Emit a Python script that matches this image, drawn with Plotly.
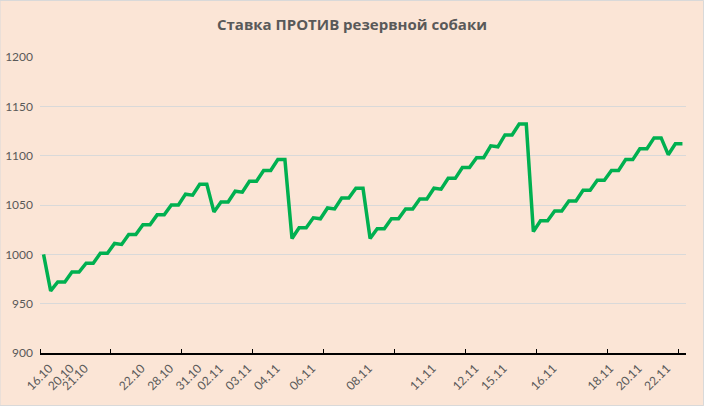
import plotly.graph_objects as go

values = [
    1000, 963, 972, 972, 982, 982, 991, 991, 1001, 1001,
    1011, 1010, 1020, 1020, 1030, 1030, 1040, 1040, 1050, 1050,
    1061, 1060, 1071, 1071, 1043, 1053, 1053, 1064, 1063, 1074,
    1074, 1085, 1085, 1096, 1096, 1016, 1027, 1027, 1037, 1036,
    1047, 1046, 1057, 1057, 1067, 1067, 1016, 1026, 1026, 1036,
    1036, 1046, 1046, 1056, 1056, 1067, 1066, 1077, 1077, 1088,
    1088, 1098, 1098, 1110, 1109, 1121, 1121, 1132, 1132, 1023,
    1034, 1034, 1044, 1044, 1054, 1054, 1065, 1065, 1075, 1075,
    1085, 1085, 1096, 1096, 1107, 1107, 1118, 1118, 1101, 1112,
    1112,
]

labels = [""] * len(values)
label_map = {
    0: "16.10", 3: "20.10", 5: "21.10", 13: "22.10", 17: "28.10",
    21: "31.10", 24: "02.11", 28: "03.11", 32: "04.11", 37: "06.11",
    45: "08.11", 54: "11.11", 60: "12.11", 64: "15.11", 71: "16.11",
    79: "18.11", 83: "20.11", 87: "22.11",
}
for k, v in label_map.items():
    labels[k] = v

y_ticks = [900, 950, 1000, 1050, 1100, 1150, 1200]
title = "Ставка ПРОТИВ резервной собаки"

x = list(range(len(values)))
label_shift = 0.8  # rotated label anchor offset (Excel-style)
tickvals = [i + label_shift for i, s in enumerate(labels) if s]
ticktext = [s for s in labels if s]

bg = "#FBE5D6"
fig = go.Figure()
fig.add_trace(go.Scatter(
    x=x, y=values, mode="lines",
    line=dict(color="#00B050", width=3.5),
    hoverinfo="skip",
))

fig.update_layout(
    width=704, height=406,
    margin=dict(l=40, r=18, t=57, b=53, autoexpand=False),
    paper_bgcolor=bg, plot_bgcolor=bg,
    showlegend=False,
    title=dict(
        text="<b>" + title + "</b>",
        x=0.5, xanchor="center", y=0.94, yanchor="middle",
        font=dict(family="Open Sans", size=15, color="#595959"),
    ),
    font=dict(family="Lato", color="#595959"),
    shapes=[dict(
        type="rect", xref="paper", yref="paper",
        x0=-40/646, x1=1 + 17.5/646, y0=-52.5/296, y1=1 + 56.5/296,
        line=dict(color="#D9D9D9", width=1), fillcolor="rgba(0,0,0,0)",
        layer="below",
    )],
)

fig.update_xaxes(
    range=[-0.5, len(values) - 0.5], automargin=False,
    tickmode="array", tickvals=tickvals, ticktext=ticktext,
    tickangle=-45, ticks="", showgrid=False, zeroline=False,
    showline=True, linecolor="#000000", linewidth=1.5,
    tickfont=dict(family="Lato", size=12, color="#595959"),
    ticklabelstandoff=2,
    minor=dict(tickmode="linear", tick0=-0.5, dtick=10, ticks="inside",
               ticklen=4, tickcolor="#000000", tickwidth=1, showgrid=False),
)
fig.update_yaxes(
    range=[900, 1200], tickmode="array", tickvals=y_ticks, automargin=False,
    showgrid=True, gridcolor="#D9D9D9", gridwidth=1,
    zeroline=False, showline=False, ticks="",
    tickfont=dict(family="Lato", size=12, color="#595959"),
    ticklabelstandoff=6,
)

fig.write_html("out.html")
